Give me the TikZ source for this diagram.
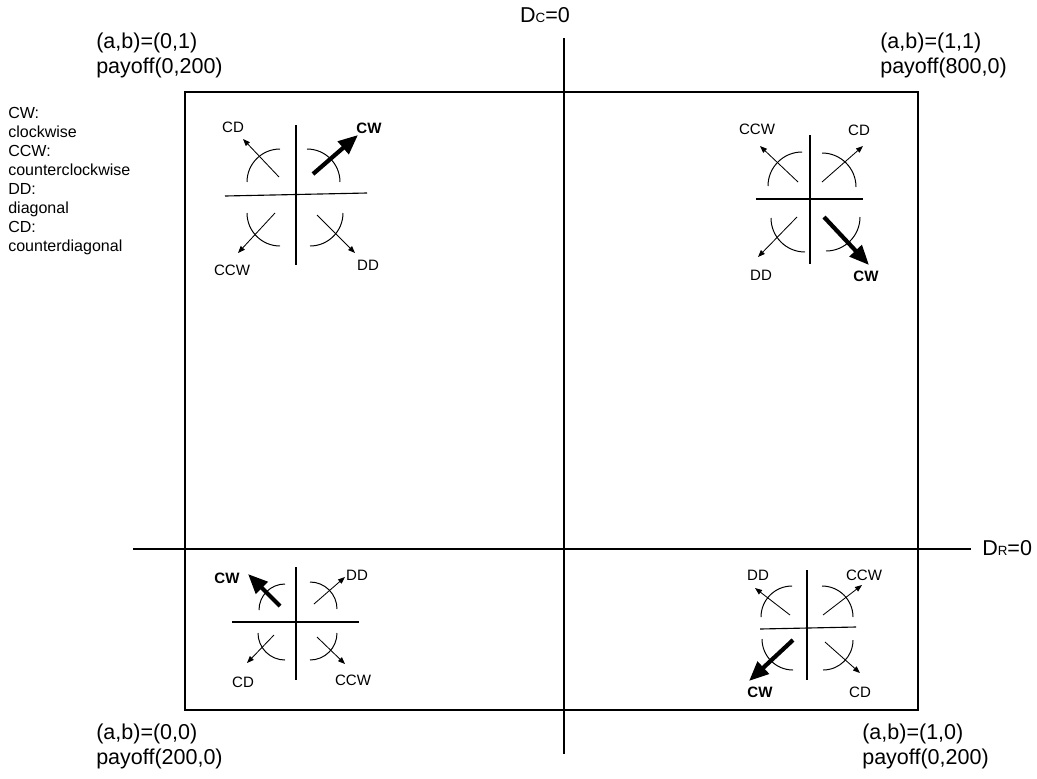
\documentclass[tikz,border=0pt]{standalone}
\usepackage{fontspec}
\setmainfont{Liberation Sans}
\usetikzlibrary{arrows.meta}
\tikzset{
  thinarr/.style={line width=0.6pt,-{Triangle[length=5pt,width=3.8pt]}},
  boldarr/.style={line width=3pt,-{Triangle[length=14pt,width=11.5pt]}},
  quadarc/.style={line width=0.7pt},
  divider/.style={line width=0.8pt},
  axisline/.style={line width=1pt},
  dirlbl/.style={inner sep=0pt,font=\fontsize{10.7}{12}\selectfont},
  boldlbl/.style={inner sep=0pt,font=\fontsize{10.7}{12}\selectfont\bfseries},
  cornerlbl/.style={inner sep=0pt,anchor=north west,align=left,font=\fontsize{15.3}{17.8}\selectfont},
}

\begin{document}
\begin{tikzpicture}[x=0.025cm,y=-0.025cm]
\useasboundingbox (0,0) rectangle (1037,778);
\draw[line width=1pt] (185,92) rectangle (918,710); % frame
\draw[axisline] (564,38) -- (564,754); % Dc=0
\draw[axisline] (133,549) -- (971,549); % Dr=0
\node[inner sep=0pt,font=\fontsize{15.3}{17.8}\selectfont] (dc) at (545,15) {D{\fontsize{9.5}{10}\selectfont C}=0};
\node[inner sep=0pt,anchor=west,font=\fontsize{15.3}{17.8}\selectfont] (dr) at (982,548) {D{\fontsize{9.5}{10}\selectfont R}=0};
%% corner labels
\node[cornerlbl] (ab01) at (96,33) {(a,b)=(0,1)\\payoff(0,200)};
\node[cornerlbl] (ab11) at (880,33) {(a,b)=(1,1)\\payoff(800,0)};
\node[cornerlbl] (ab00) at (96,724) {(a,b)=(0,0)\\payoff(200,0)};
\node[cornerlbl] (ab10) at (862,724) {(a,b)=(1,0)\\payoff(0,200)};
%% legend
\node[inner sep=0pt,anchor=north west,align=left,font=\fontsize{11.4}{13.5}\selectfont] (legend) at (8,107)
  {CW:\\clockwise\\CCW:\\counterclockwise\\DD:\\diagonal\\CD:\\counterdiagonal};
%% top left panel (a,b)=(0,1)
\draw[divider] (296,125) -- (296,265); % vertical
\draw[divider] (225,196) -- (367,193); % horizontal
\draw[quadarc] (247,182) arc[start angle=180,end angle=270,radius=33]; % UL
\draw[quadarc] (307,149) arc[start angle=270,end angle=360,radius=33]; % UR
\draw[quadarc] (280,246) arc[start angle=90,end angle=180,radius=33]; % LL
\draw[quadarc] (343,213) arc[start angle=0,end angle=90,radius=33]; % LR
\draw[thinarr] (279,177) -- (243,139);
\draw[boldarr] (313,174) -- (358,135);
\draw[thinarr] (275,213) -- (238,253);
\draw[thinarr] (317,215) -- (355,253);
\node[dirlbl] (tlcd) at (233,127) {CD};
\node[boldlbl] (tlcw) at (369,128) {CW};
\node[dirlbl] (tlccw) at (232,270) {CCW};
\node[dirlbl] (tldd) at (368,265) {DD};
%% top right panel (a,b)=(1,1)
\draw[divider] (810,135) -- (810,264); % vertical
\draw[divider] (756,199) -- (863,199); % horizontal
\draw[quadarc] (768,186) arc[start angle=180,end angle=270,radius=34]; % UL
\draw[quadarc] (822,153) arc[start angle=270,end angle=360,radius=34]; % UR
\draw[quadarc] (805,252) arc[start angle=90,end angle=180,radius=34]; % LL
\draw[quadarc] (860,217) arc[start angle=0,end angle=90,radius=34]; % LR
\draw[thinarr] (798,182) -- (760,146);
\draw[thinarr] (822,182) -- (863,146);
\draw[thinarr] (797,217) -- (758,257);
\draw[boldarr] (824,217) -- (869,265);
\node[dirlbl] (trccw) at (757,129) {CCW};
\node[dirlbl] (trcd) at (859,130) {CD};
\node[dirlbl] (trdd) at (761,275) {DD};
\node[boldlbl] (trcw) at (866,276) {CW};
%% bottom left panel (a,b)=(0,0)
\draw[divider] (296,567) -- (296,680); % vertical
\draw[divider] (232,622) -- (359,622); % horizontal
\draw[quadarc] (259,610) arc[start angle=180,end angle=270,radius=26]; % UL
\draw[quadarc] (310,582) arc[start angle=270,end angle=360,radius=27]; % UR
\draw[quadarc] (285,660) arc[start angle=90,end angle=180,radius=27]; % LL
\draw[quadarc] (337,633) arc[start angle=0,end angle=90,radius=27]; % LR
\draw[boldarr] (280,606) -- (248,574);
\draw[thinarr] (314,604) -- (345,577);
\draw[thinarr] (274,635) -- (247,663);
\draw[thinarr] (317,637) -- (345,664);
\node[boldlbl] (blcw) at (227,578) {CW};
\node[dirlbl] (bldd) at (357,575) {DD};
\node[dirlbl] (blcd) at (243,682) {CD};
\node[dirlbl] (blccw) at (353,680) {CCW};
%% bottom right panel (a,b)=(1,0)
\draw[divider] (807,570) -- (807,680); % vertical
\draw[divider] (760,629) -- (856,627); % horizontal
\draw[quadarc] (761,617) arc[start angle=180,end angle=270,radius=31]; % UL
\draw[quadarc] (822,586) arc[start angle=270,end angle=360,radius=31]; % UR
\draw[quadarc] (793,670) arc[start angle=90,end angle=180,radius=31]; % LL
\draw[quadarc] (853,640) arc[start angle=0,end angle=90,radius=30]; % LR
\draw[thinarr] (790,615) -- (755,588);
\draw[thinarr] (823,615) -- (862,585);
\draw[boldarr] (793,640) -- (749,681);
\draw[thinarr] (825,642) -- (860,673);
\node[dirlbl] (brdd) at (758,575) {DD};
\node[dirlbl] (brccw) at (864,575) {CCW};
\node[boldlbl] (brcw) at (760,692) {CW};
\node[dirlbl] (brcd) at (860,692) {CD};
\end{tikzpicture}
\end{document}
